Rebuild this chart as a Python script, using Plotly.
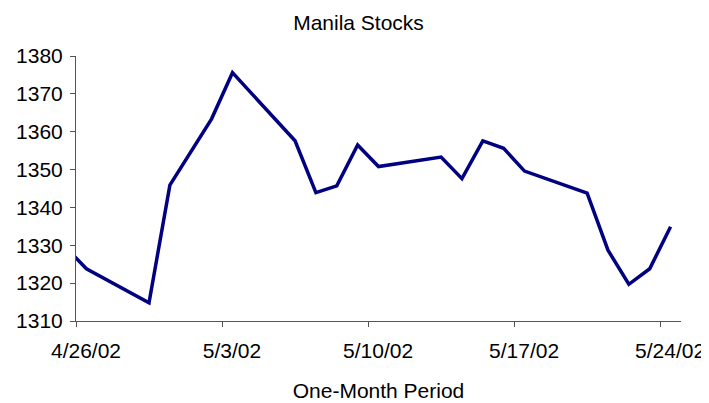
import pandas as pd
import plotly.graph_objects as go

dates = ["2002-04-25", "2002-04-26", "2002-04-29", "2002-04-30", "2002-05-02",
         "2002-05-03", "2002-05-06", "2002-05-07", "2002-05-08", "2002-05-09",
         "2002-05-10", "2002-05-13", "2002-05-14", "2002-05-15", "2002-05-16",
         "2002-05-17", "2002-05-20", "2002-05-21", "2002-05-22", "2002-05-23",
         "2002-05-24"]
values = [1329.5, 1323.8, 1314.8, 1345.9, 1363.4,
          1375.6, 1357.6, 1343.9, 1345.7, 1356.5,
          1350.8, 1353.3, 1347.6, 1357.6, 1355.6,
          1349.6, 1343.8, 1328.7, 1319.7, 1323.8,
          1334.9]
y_ticks = [1310, 1320, 1330, 1340, 1350, 1360, 1370, 1380]
x_range = ["2002-04-26", "2002-05-25"]

# Excel date axis places each daily value in the middle of its day
x = pd.to_datetime(dates) + pd.Timedelta(hours=12)

font = "Liberation Sans, Arial, sans-serif"

# page body has an 8px default margin, so the figure is 8px smaller
W, H = 701, 395

fig = go.Figure()
fig.add_trace(go.Scatter(x=x, y=values, mode="lines",
                         line=dict(color="#000080", width=3.5),
                         showlegend=False, hoverinfo="x+y"))

fig.update_layout(
    width=W, height=H,
    margin=dict(l=68, r=28, t=48, b=82, autoexpand=False),
    paper_bgcolor="white", plot_bgcolor="white",
    font=dict(family=font, color="black"),
    title=dict(text="Manila Stocks", x=0.5, xref="container", xanchor="center",
               y=1 - 14.5 / H, yanchor="middle", automargin=False,
               font=dict(size=21, family=font, color="black")),
)
fig.update_xaxes(
    type="date", range=x_range, automargin=False,
    tick0="2002-04-26", dtick=7 * 24 * 3600 * 1000,
    tickformat="%-m/%-d/%y",
    ticks="outside", ticklen=5, tickcolor="#555", tickwidth=1,
    ticklabelshift=10, ticklabelstandoff=6,
    showline=True, linecolor="#555", linewidth=1,
    showgrid=False, zeroline=False,
    tickfont=dict(size=21, family=font, color="black"),
    title=dict(text="One-Month Period", standoff=22,
               font=dict(size=21, family=font, color="black")),
)
fig.update_yaxes(
    range=[1310, 1380], tickvals=y_ticks, automargin=False,
    ticks="outside", ticklen=5, tickcolor="#555", tickwidth=1,
    ticklabelstandoff=3,
    showline=True, linecolor="#555", linewidth=1,
    showgrid=False, zeroline=False,
    tickfont=dict(size=21, family=font, color="black"),
)

fig.write_html("out.html")
